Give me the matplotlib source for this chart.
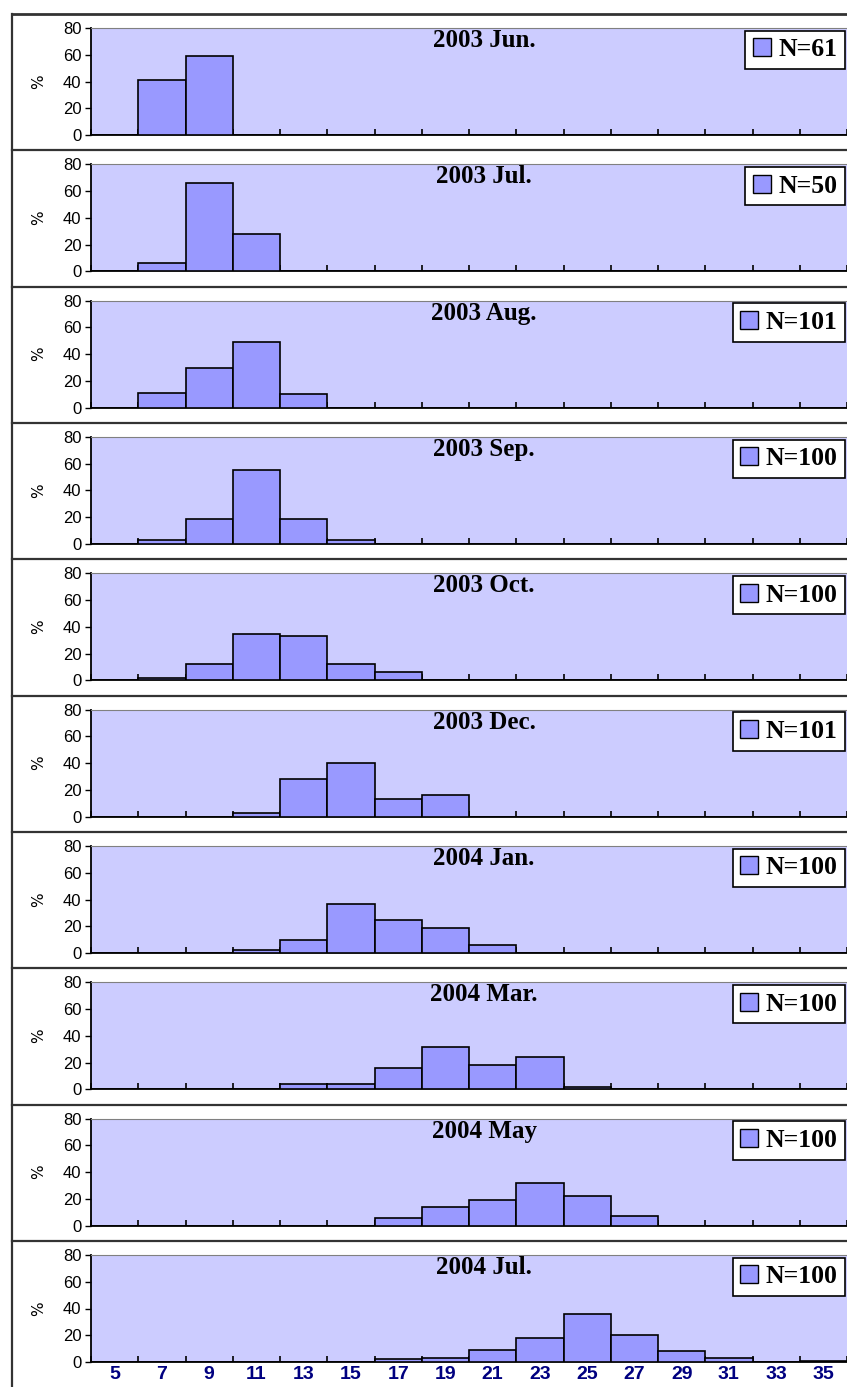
import numpy as np
import matplotlib
matplotlib.use("Agg")
import matplotlib.pyplot as plt
from matplotlib.patches import Patch
from matplotlib.lines import Line2D

# size classes (bin labels) and monthly percentage distributions
bins = [5, 7, 9, 11, 13, 15, 17, 19, 21, 23, 25, 27, 29, 31, 33, 35]
months = ['2003 Jun.', '2003 Jul.', '2003 Aug.', '2003 Sep.', '2003 Oct.',
          '2003 Dec.', '2004 Jan.', '2004 Mar.', '2004 May', '2004 Jul.']
counts = [61, 50, 101, 100, 100, 101, 100, 100, 100, 100]

jun03 = [0, 41, 59, 0, 0, 0, 0, 0, 0, 0, 0, 0, 0, 0, 0, 0]
jul03 = [0, 6, 66, 28, 0, 0, 0, 0, 0, 0, 0, 0, 0, 0, 0, 0]
aug03 = [0, 11, 30, 49, 10, 0, 0, 0, 0, 0, 0, 0, 0, 0, 0, 0]
sep03 = [0, 3, 19, 55, 19, 3, 0, 0, 0, 0, 0, 0, 0, 0, 0, 0]
oct03 = [0, 2, 12, 35, 33, 12, 6, 0, 0, 0, 0, 0, 0, 0, 0, 0]
dec03 = [0, 0, 0, 3, 28, 40, 13, 16, 0, 0, 0, 0, 0, 0, 0, 0]
jan04 = [0, 0, 0, 2, 10, 37, 25, 19, 6, 0, 0, 0, 0, 0, 0, 0]
mar04 = [0, 0, 0, 0, 4, 4, 16, 32, 18, 24, 2, 0, 0, 0, 0, 0]
may04 = [0, 0, 0, 0, 0, 0, 6, 14, 19, 32, 22, 7, 0, 0, 0, 0]
jul04 = [0, 0, 0, 0, 0, 0, 2, 3, 9, 18, 36, 20, 8, 3, 0, 1]
series = [jun03, jul03, aug03, sep03, oct03, dec03, jan04, mar04, may04, jul04]

W, H = 847, 1387
fig = plt.figure(figsize=(W / 100, H / 100), dpi=100)
fig.patch.set_facecolor('white')

step = (1241 - 14) / 9.0
x = np.arange(len(bins))

for i, (vals, title, n) in enumerate(zip(series, months, counts)):
    top_px = 28 + step * i
    bot_px = 135 + step * i
    ax = fig.add_axes([91 / W, 1 - bot_px / H, (W - 91) / W, (bot_px - top_px) / H])
    ax.set_facecolor('#CCCCFF')
    ax.bar(x, vals, width=1.0, color='#9999FF', edgecolor='black', linewidth=1.2, zorder=3)
    ax.set_xlim(-0.5, 15.25)
    ax.set_ylim(0, 80)
    ax.set_yticks([0, 20, 40, 60, 80])
    ax.tick_params(axis='y', direction='out', length=4, width=1, labelsize=12, pad=3)
    for lab in ax.get_yticklabels():
        lab.set_family('Liberation Sans')
    # bin boundary ticks inside, labels at centres
    ax.set_xticks(np.arange(-0.5, 16, 1.0))
    ax.tick_params(axis='x', which='major', direction='in', length=4, width=1.2, labelbottom=False)
    ax.set_xticks(x, minor=True)
    if i == len(series) - 1:
        ax.set_xticklabels([str(b) for b in bins], minor=True)
        ax.tick_params(axis='x', which='minor', length=0, pad=3, labelsize=14, labelcolor='#000080')
        for lab in ax.get_xticklabels(minor=True):
            lab.set_fontweight('bold')
            lab.set_family('Liberation Sans')
    else:
        ax.tick_params(axis='x', which='minor', length=0, labelbottom=False)
    ax.spines['left'].set_color('black')
    ax.spines['bottom'].set_color('black')
    ax.spines['left'].set_linewidth(1.3)
    ax.spines['bottom'].set_linewidth(1.3)
    ax.spines['top'].set_color('#808080')
    ax.spines['right'].set_visible(False)
    ax.set_ylabel('%', fontsize=11, labelpad=12)

    ax.text(0.52, 0.99, title, transform=ax.transAxes, ha='center', va='top',
            fontsize=18, fontweight='bold', family='Liberation Serif', zorder=5)
    leg = ax.legend(handles=[Patch(facecolor='#9999FF', edgecolor='black', label=f'N={n}')],
                    loc='upper right', bbox_to_anchor=(0.998, 0.975),
                    fancybox=False, framealpha=1, edgecolor='black',
                    prop={'family': 'Liberation Serif', 'weight': 'bold', 'size': 18.5},
                    handlelength=0.7, handleheight=0.7, handletextpad=0.3,
                    borderpad=0.3, borderaxespad=0)
    leg.get_frame().set_linewidth(1.2)
    leg.set_zorder(6)

# panel separators and outer frame
for i in range(10):
    yp = 1 - (14 + step * i) / H
    fig.add_artist(Line2D([12 / W, 1], [yp, yp], color='#333333',
                          linewidth=2.0 if i == 0 else 1.6, transform=fig.transFigure))
fig.add_artist(Line2D([12 / W, 12 / W], [1 - 14 / H, 0], color='#333333',
                      linewidth=1.6, transform=fig.transFigure))

fig.savefig('out.png', dpi=100)
